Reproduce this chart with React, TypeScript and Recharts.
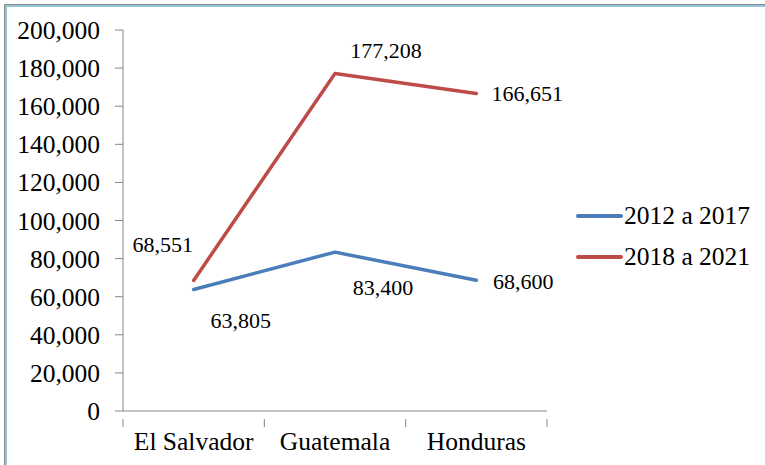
import { LineChart, Line, XAxis, YAxis, Legend, LabelList } from "recharts";

const countries = ["El Salvador", "Guatemala", "Honduras"];
const period2012 = [63805, 83400, 68600];
const period2018 = [68551, 177208, 166651];
const yTicks = [0, 20000, 40000, 60000, 80000, 100000, 120000, 140000, 160000, 180000, 200000];

const data = countries.map((country, i) => ({
  country,
  p2012: period2012[i],
  p2018: period2018[i],
}));

const BLUE = "#4A7EBB";
const RED = "#BE4B48";
const AXIS = "#868686";
const FONT = '"Liberation Serif", "Times New Roman", serif';

// label offsets (dx, dy) from each point, per series
const blueLabelOffsets = [[47, 31], [48, 35], [47, 1]];
const redLabelOffsets = [[-31, -36], [51, -23], [51, 0]];

const fmt = (v: number) => v.toLocaleString("en-US");

const HALF_BAND = 70.67;

function CategoryTick(props: any) {
  const { x, y, payload, index } = props;
  const last = index === countries.length - 1;
  return (
    <g>
      <line x1={x - HALF_BAND} y1={y} x2={x - HALF_BAND} y2={y + 8} stroke={AXIS} />
      {last && <line x1={x + HALF_BAND} y1={y} x2={x + HALF_BAND} y2={y + 8} stroke={AXIS} />}
      <text
        x={x}
        y={y + 22}
        textAnchor="middle"
        dominantBaseline="central"
        fontFamily={FONT}
        fontSize={25.5}
        fill="#000"
      >
        {payload.value}
      </text>
    </g>
  );
}

function makeLabel(offsets: number[][]) {
  return (props: any) => {
    const { x, y, value, index } = props;
    const [dx, dy] = offsets[index];
    return (
      <text
        x={x + dx}
        y={y + dy}
        textAnchor="middle"
        dominantBaseline="central"
        fontFamily={FONT}
        fontSize={22}
        fill="#000"
      >
        {fmt(value)}
      </text>
    );
  };
}

function LegendContent() {
  const items = [
    { name: "2012 a 2017", color: BLUE },
    { name: "2018 a 2021", color: RED },
  ];
  return (
    <div style={{ fontFamily: FONT, fontSize: 25.5, color: "#000" }}>
      {items.map((it) => (
        <div key={it.name} style={{ display: "flex", alignItems: "center", height: 41 }}>
          <svg width={48} height={10} style={{ display: "block" }}>
            <line x1={2} y1={5} x2={45} y2={5} stroke={it.color} strokeWidth={4} strokeLinecap="round" />
          </svg>
          <span style={{ lineHeight: "41px", whiteSpace: "nowrap" }}>{it.name}</span>
        </div>
      ))}
    </div>
  );
}

export default function App() {
  return (
    <div
      style={{
        position: "fixed",
        left: 0,
        top: 0,
        width: 765,
        height: 465,
        overflow: "hidden",
        background: "#fff",
      }}
    >
      <div
        style={{
          position: "absolute",
          left: 4,
          top: 4,
          width: 900,
          height: 700,
          borderTop: "1px solid #8a8a8a",
          borderLeft: "1px solid #8a8a8a",
        }}
      >
        <div
          style={{
            width: "100%",
            height: "100%",
            borderTop: "2px solid #93c4d8",
            borderLeft: "2px solid #93c4d8",
          }}
        />
      </div>
      <div style={{ position: "absolute", left: 0, top: 0 }}>
        <LineChart
          width={765}
          height={465}
          data={data}
          margin={{ top: 30, right: 218, bottom: 0, left: 0 }}
        >
          <XAxis
            dataKey="country"
            height={54}
            padding={{ left: HALF_BAND, right: HALF_BAND }}
            stroke={AXIS}
            tickLine={false}
            tick={<CategoryTick />}
            interval={0}
          />
          <YAxis
            width={123}
            domain={[0, 200000]}
            ticks={yTicks}
            tickFormatter={fmt}
            stroke={AXIS}
            tickSize={8}
            tickMargin={15}
            tick={{ fontFamily: FONT, fontSize: 25.5, fill: "#000" }}
            interval={0}
          />
          <Legend
            layout="vertical"
            verticalAlign="middle"
            align="center"
            wrapperStyle={{ left: 576, top: 195, width: 190 }}
            content={<LegendContent />}
          />
          <Line
            dataKey="p2012"
            name="2012 a 2017"
            stroke={BLUE}
            strokeWidth={3.5}
            strokeLinecap="round"
            strokeLinejoin="round"
            dot={false}
            isAnimationActive={false}
          >
            <LabelList dataKey="p2012" content={makeLabel(blueLabelOffsets)} />
          </Line>
          <Line
            dataKey="p2018"
            name="2018 a 2021"
            stroke={RED}
            strokeWidth={3.5}
            strokeLinecap="round"
            strokeLinejoin="round"
            dot={false}
            isAnimationActive={false}
          >
            <LabelList dataKey="p2018" content={makeLabel(redLabelOffsets)} />
          </Line>
        </LineChart>
      </div>
    </div>
  );
}
